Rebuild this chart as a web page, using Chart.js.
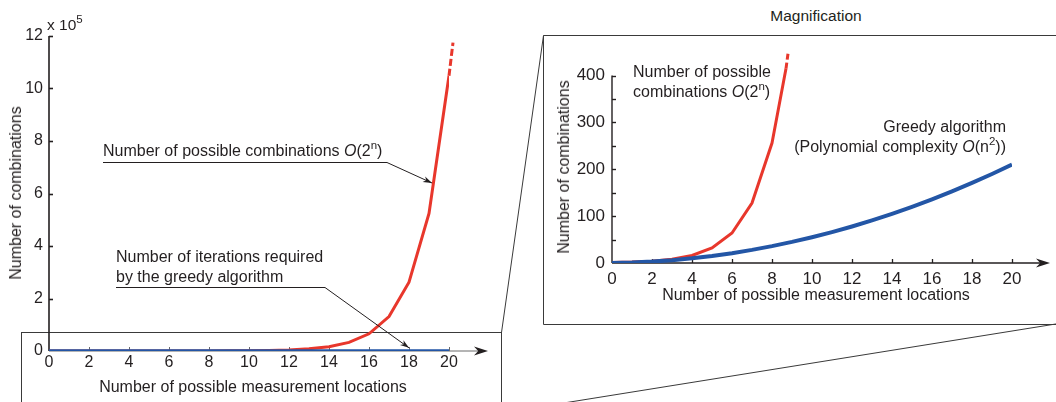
<!DOCTYPE html>
<html lang="en">
<head>
<meta charset="UTF-8">
<title>Combinations vs greedy iterations</title>
<script src="https://cdn.jsdelivr.net/npm/chart.js"></script>
<style>
    body { margin: 0; width: 1056px; height: 402px; overflow: hidden; background: #fff; position: relative;
           font-family: 'Liberation Sans', Arial, Helvetica, sans-serif; color: #231f20; }
    canvas, svg { position: absolute; }
    #frame { left: 0; top: 0; }
    #chartMain { left: 0; top: 0; }
    #chartZoom { left: 543px; top: 35px; }
    .txt { position: absolute; font-size: 16px; line-height: 20px; white-space: nowrap; }
    .txt sup { font-size: 11.5px; line-height: 0; position: relative; top: -1px; vertical-align: super; }
    .center { transform: translate(-50%, -50%); }
    .rot { transform: translate(-50%, -50%) rotate(-90deg); }
</style>
</head>
<body>

<!-- zoom frame + connector lines -->
<svg id="frame" width="1056" height="402">
    <g fill="none" stroke="#3a3a3a" stroke-width="1">
        <rect x="21.5" y="332.5" width="480" height="120"></rect>
        <line x1="501.5" y1="332.5" x2="543.5" y2="35.5"></line>
        <line x1="501.5" y1="413" x2="1062" y2="323"></line>
        <path d="M1060 35.5 H543.5 V324.5 H1060"></path>
    </g>
</svg>

<canvas id="chartMain" width="520" height="402"></canvas>
<canvas id="chartZoom" width="513" height="289"></canvas>

<!-- main chart texts -->
<div class="txt" style="left:47px; top:15px; font-size:15.5px;">x 10<sup>5</sup></div>
<div class="txt rot" style="left:16px; top:193px;">Number of combinations</div>
<div class="txt center" style="left:253px; top:387px;">Number of possible measurement locations</div>
<div class="txt" style="left:103px; top:141px;">Number of possible combinations <i>O</i>(2<sup>n</sup>)</div>
<div class="txt" style="left:116px; top:247px;">Number of iterations required<br>by the greedy algorithm</div>

<!-- magnified chart texts -->
<div class="txt center" style="left:816px; top:16px; font-size:15.5px;">Magnification</div>
<div class="txt rot" style="left:564px; top:167px;">Number of combinations</div>
<div class="txt center" style="left:816px; top:295px;">Number of possible measurement locations</div>
<div class="txt" style="left:633px; top:62px;">Number of possible<br>combinations <i>O</i>(2<sup>n</sup>)</div>
<div class="txt" style="right:50px; top:117px; text-align:right;">Greedy algorithm<br>(Polynomial complexity <i>O</i>(n<sup>2</sup>))</div>

<script>
    // data
    const locations = [0, 1, 2, 3, 4, 5, 6, 7, 8, 9, 10, 11, 12, 13, 14, 15, 16, 17, 18, 19, 20];
    const combinations = [1, 2, 4, 8, 16, 32, 64, 128, 256, 512, 1024, 2048, 4096, 8192, 16384,
        32768, 65536, 131072, 262144, 524288, 1048576];
    const greedyIterations = [0, 1, 3, 6, 10, 15, 21, 28, 36, 45, 55, 66, 78, 91, 105, 120, 136, 153, 171, 190, 210];

    // dashed continuation of the red curve
    const mainTailX = [20, 20.2];
    const mainTailY = [1048576, 1175000];
    const zoomTailX = [8.7, 8.8];
    const zoomTailY = [415, 447];

    // ticks
    const xTicks = [0, 2, 4, 6, 8, 10, 12, 14, 16, 18, 20];
    const mainYTicks = [0, 200000, 400000, 600000, 800000, 1000000, 1200000];
    const zoomYTicks = [0, 100, 200, 300, 400];
    const zoomYMinor = [50, 150, 250, 350];

    const ink = '#231f20';
    const red = '#e8372c';
    const blue = '#2356a6';
    const family = 'Liberation Sans, Arial, Helvetica, sans-serif';

    Chart.defaults.font.family = family;
    Chart.defaults.font.size = 16;
    Chart.defaults.color = ink;

    function pts(xs, ys) {
        return xs.map((v, i) => ({ x: v, y: ys[i] }));
    }

    function arrowHead(ctx, tx, ty, ang, len, half) {
        ctx.beginPath();
        ctx.moveTo(tx, ty);
        ctx.lineTo(tx - len * Math.cos(ang) + half * Math.sin(ang), ty - len * Math.sin(ang) - half * Math.cos(ang));
        ctx.lineTo(tx - len * 0.7 * Math.cos(ang), ty - len * 0.7 * Math.sin(ang));
        ctx.lineTo(tx - len * Math.cos(ang) - half * Math.sin(ang), ty - len * Math.sin(ang) + half * Math.cos(ang));
        ctx.closePath();
        ctx.fill();
    }

    // axis lines with arrow, tick marks pointing inward
    const axesPlugin = {
        id: 'axes',
        beforeDatasetsDraw(chart, args, o) {
            const { ctx, scales: { x, y } } = chart;
            const x0 = x.getPixelForValue(0), y0 = y.getPixelForValue(0);
            ctx.save();
            ctx.fillStyle = ink;
            ctx.strokeStyle = o.yColor;
            ctx.lineWidth = o.yWidth;
            ctx.beginPath();
            ctx.moveTo(x0, y0);
            ctx.lineTo(x0, y.getPixelForValue(o.yTop));
            ctx.stroke();
            o.yMarks.forEach(v => {
                const p = Math.round(y.getPixelForValue(v)) + 0.5;
                ctx.beginPath();
                ctx.moveTo(x0, p);
                ctx.lineTo(x0 + 4, p);
                ctx.stroke();
            });
            const tip = x.right + o.arrow;
            ctx.strokeStyle = o.xColor;
            ctx.lineWidth = o.xWidth;
            ctx.beginPath();
            ctx.moveTo(x0, y0);
            ctx.lineTo(tip - 8, y0);
            ctx.stroke();
            xTicks.slice(1).forEach(v => {
                const p = Math.round(x.getPixelForValue(v)) + 0.5;
                ctx.beginPath();
                ctx.moveTo(p, y0);
                ctx.lineTo(p, y0 - 4);
                ctx.stroke();
            });
            ctx.fillStyle = ink;
            arrowHead(ctx, tip, y0, 0, 14, 4.5);
            ctx.restore();
        }
    };

    // leader lines of the annotations (main chart only)
    const leaderPlugin = {
        id: 'leaders',
        afterDatasetsDraw(chart, args, o) {
            if (!o.lines) return;
            const { ctx, scales: { x, y } } = chart;
            ctx.save();
            ctx.strokeStyle = ink;
            ctx.fillStyle = ink;
            ctx.lineWidth = 1;
            o.lines.forEach(l => {
                const tx = x.getPixelForValue(l.to[0]);
                const ty = y.getPixelForValue(l.to[1]);
                ctx.beginPath();
                ctx.moveTo(l.from[0], l.from[1] + 0.5);
                ctx.lineTo(l.via[0], l.via[1] + 0.5);
                ctx.lineTo(tx, ty);
                ctx.stroke();
                arrowHead(ctx, tx, ty, Math.atan2(ty - l.via[1], tx - l.via[0]), 9, 3);
            });
            ctx.restore();
        }
    };

    function makeChart(id, cfg) {
        return new Chart(document.getElementById(id), {
            type: 'line',
            data: { datasets: cfg.datasets },
            options: {
                responsive: false,
                animation: false,
                devicePixelRatio: 1,
                events: [],
                layout: { padding: cfg.padding },
                elements: { point: { radius: 0 }, line: { tension: 0, borderCapStyle: 'butt' } },
                plugins: {
                    legend: { display: false },
                    tooltip: { enabled: false },
                    axes: cfg.axes,
                    leaders: cfg.leaders || {}
                },
                scales: {
                    x: {
                        type: 'linear', min: 0, max: 20,
                        grid: { display: false, drawTicks: false },
                        border: { display: false },
                        afterBuildTicks: s => { s.ticks = xTicks.map(v => ({ value: v })); },
                        afterFit: s => { s.height = cfg.xHeight; },
                        ticks: { padding: cfg.xPad, color: ink, font: { size: cfg.tickSize } }
                    },
                    y: {
                        type: 'linear', min: 0, max: cfg.yMax,
                        grid: { display: false, drawTicks: false },
                        border: { display: false },
                        afterBuildTicks: s => { s.ticks = cfg.yTicks.map(v => ({ value: v })); },
                        afterFit: s => { s.width = cfg.yWidth; },
                        ticks: {
                            padding: cfg.yPad, color: ink, font: { size: cfg.tickSize },
                            callback: cfg.yLabel
                        }
                    }
                }
            },
            plugins: [axesPlugin, leaderPlugin]
        });
    }

    makeChart('chartMain', {
        padding: { top: 36, right: 71, left: 0, bottom: 0 },
        xHeight: 51, yWidth: 49, xPad: 2, yPad: 6, tickSize: 16,
        yMax: 1200000, yTicks: mainYTicks,
        yLabel: v => v / 100000,
        axes: { yTop: 1200000, yMarks: mainYTicks.slice(1), arrow: 39,
                yColor: ink, yWidth: 1.6, xColor: '#6b6b6b', xWidth: 1 },
        leaders: {
            lines: [
                { from: [103, 162], via: [387, 162], to: [19.15, 640000] },
                { from: [116, 287], via: [325, 287], to: [18, 12000] }
            ]
        },
        datasets: [
            { data: pts(locations, greedyIterations), borderColor: blue, borderWidth: 3.5 },
            { data: pts(locations, combinations), borderColor: red, borderWidth: 3 },
            { data: pts(mainTailX, mainTailY), borderColor: red, borderWidth: 3, borderDash: [7, 3], clip: false }
        ]
    });

    makeChart('chartZoom', {
        padding: { top: 9, right: 44, left: 0, bottom: 0 },
        xHeight: 61, yWidth: 69, xPad: 6.5, yPad: 7, tickSize: 17,
        yMax: 450, yTicks: zoomYTicks,
        yLabel: v => v,
        axes: { yTop: 400, yMarks: zoomYTicks.slice(1).concat(zoomYMinor), arrow: 38,
                yColor: ink, yWidth: 1.4, xColor: ink, xWidth: 1.3 },
        datasets: [
            { data: pts(locations, greedyIterations), borderColor: blue, borderWidth: 4 },
            { data: pts(locations.slice(0, 9), combinations.slice(0, 9)).concat(pts(zoomTailX.slice(0, 1), zoomTailY.slice(0, 1))),
              borderColor: red, borderWidth: 3 },
            { data: pts(zoomTailX, zoomTailY), borderColor: red, borderWidth: 3, borderDash: [6, 3], clip: false }
        ]
    });
</script>
</body>
</html>
